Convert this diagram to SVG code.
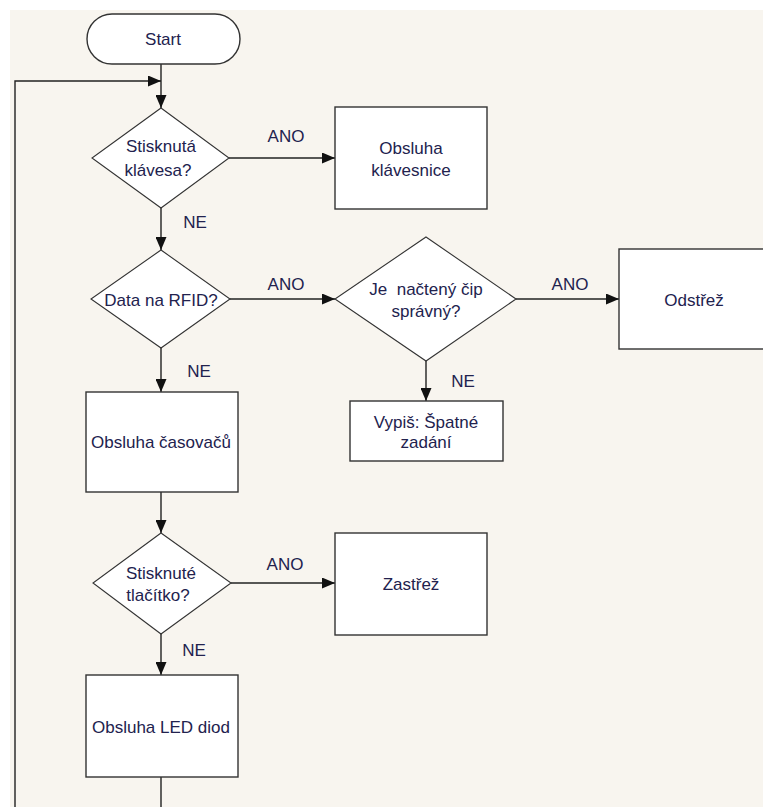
<svg xmlns="http://www.w3.org/2000/svg" width="763" height="807" viewBox="0 0 763 807">
  <style>
    .shape { fill: #ffffff; stroke: #333333; stroke-width: 1.4; }
    .dia { fill: #ffffff; stroke: #333333; stroke-width: 1.1; }
    .txt { font-family: "Liberation Sans", Arial, sans-serif; font-size: 17px; fill: #22224e; text-anchor: middle; }
    .lbl { font-family: "Liberation Sans", Arial, sans-serif; font-size: 17px; fill: #22224e; text-anchor: middle; }
    .edge { fill: none; stroke: #222222; stroke-width: 1.4; }
  </style>
  <defs>
    <marker id="arrow" markerUnits="userSpaceOnUse" markerWidth="13" markerHeight="11" refX="13" refY="5.5" orient="auto">
      <path d="M0,0 L13,5.5 L0,11 Z" fill="#111111"/>
    </marker>
  </defs>

  <rect x="0" y="0" width="763" height="807" fill="#ffffff"/>
  <rect x="10" y="10" width="753" height="797" fill="#f8f5ef"/>

  <g id="connectors">
    <path class="edge" d="M161,64 V108" marker-end="url(#arrow)"/>
    <path class="edge" d="M15,807 V81 H161" marker-end="url(#arrow)"/>
    <path class="edge" d="M229,158 H335" marker-end="url(#arrow)"/>
    <path class="edge" d="M161,208 V250" marker-end="url(#arrow)"/>
    <path class="edge" d="M230,299 H335" marker-end="url(#arrow)"/>
    <path class="edge" d="M516,299 H619" marker-end="url(#arrow)"/>
    <path class="edge" d="M426,361 V401" marker-end="url(#arrow)"/>
    <path class="edge" d="M161,348 V392" marker-end="url(#arrow)"/>
    <path class="edge" d="M161,492 V533" marker-end="url(#arrow)"/>
    <path class="edge" d="M231,583 H335" marker-end="url(#arrow)"/>
    <path class="edge" d="M161,634 V675" marker-end="url(#arrow)"/>
    <path class="edge" d="M161,777 V807"/>
    <text class="lbl" x="286" y="142">ANO</text>
    <text class="lbl" x="195" y="228">NE</text>
    <text class="lbl" x="286" y="290">ANO</text>
    <text class="lbl" x="570" y="290">ANO</text>
    <text class="lbl" x="199" y="377">NE</text>
    <text class="lbl" x="463" y="387">NE</text>
    <text class="lbl" x="285" y="570">ANO</text>
    <text class="lbl" x="194" y="656">NE</text>
  </g>

  <g id="start">
    <rect class="shape" x="87" y="14" width="153" height="50" rx="25" ry="25"/>
    <text class="txt" x="163" y="45">Start</text>
  </g>

  <g id="key-pressed">
    <polygon class="dia" points="161,108 229,158 161,208 92,158"/>
    <text class="txt" x="161" y="152">Stisknutá</text>
    <text class="txt" x="158" y="176">klávesa?</text>
  </g>

  <g id="keypad-handler">
    <rect class="shape" x="335" y="107" width="152" height="102"/>
    <text class="txt" x="411" y="154">Obsluha</text>
    <text class="txt" x="411" y="176">klávesnice</text>
  </g>

  <g id="rfid-data">
    <polygon class="dia" points="161,250 230,299 161,348 91,299"/>
    <text class="txt" x="161" y="306">Data na RFID?</text>
  </g>

  <g id="chip-valid">
    <polygon class="dia" points="426,237 516,299 426,361 335,299"/>
    <text class="txt" x="426" y="295" xml:space="preserve">Je  načtený čip</text>
    <text class="txt" x="426" y="317">správný?</text>
  </g>

  <g id="disarm">
    <rect class="shape" x="619" y="249" width="152" height="100"/>
    <text class="txt" x="694" y="306">Odstřež</text>
  </g>

  <g id="wrong-input">
    <rect class="shape" x="350" y="401" width="153" height="60"/>
    <text class="txt" x="426" y="428">Vypiš: Špatné</text>
    <text class="txt" x="426" y="448">zadání</text>
  </g>

  <g id="timers">
    <rect class="shape" x="86" y="392" width="152" height="100"/>
    <text class="txt" x="161" y="448">Obsluha časovačů</text>
  </g>

  <g id="button-pressed">
    <polygon class="dia" points="161,533 231,583 161,634 93,583"/>
    <text class="txt" x="161" y="579">Stisknuté</text>
    <text class="txt" x="158" y="601">tlačítko?</text>
  </g>

  <g id="arm">
    <rect class="shape" x="335" y="533" width="152" height="102"/>
    <text class="txt" x="411" y="590">Zastřež</text>
  </g>

  <g id="leds">
    <rect class="shape" x="86" y="675" width="152" height="102"/>
    <text class="txt" x="161" y="733">Obsluha LED diod</text>
  </g>
</svg>
